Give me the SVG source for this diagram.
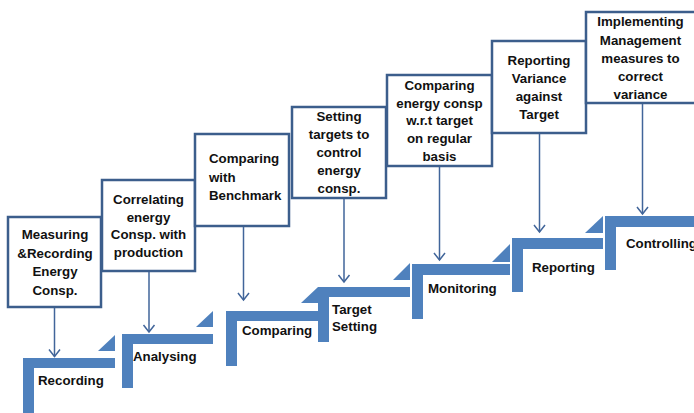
<svg xmlns="http://www.w3.org/2000/svg" width="694" height="413" viewBox="0 0 694 413">
<defs>
<style>
.box{fill:#ffffff;stroke:#3C5E8C;stroke-width:2.5}
.step{fill:#4F81BD}
.lbl{font-family:"Liberation Sans",Arial,sans-serif;font-weight:bold;font-size:13.3px;fill:#111111}
.c{text-anchor:middle}
.conn{stroke:#41659A;stroke-width:1.5;fill:none}
</style>
<marker id="ah" viewBox="-9 -8 11 16" markerWidth="11" markerHeight="16" refX="0" refY="0" orient="auto" markerUnits="userSpaceOnUse">
<path d="M-7,-5.5 L0,0 L-7,5.5" fill="none" stroke="#41659A" stroke-width="1.5"/>
</marker>
</defs>
<rect width="694" height="413" fill="#ffffff"/>

<g id="steps">
<g id="step-recording">
<path class="step" d="M23,358 H115 V368 H34 V420 H23 Z"/>
<path class="step" d="M98,351 H115 V335 Z"/>
<text class="lbl" x="38" y="385">Recording</text>
</g>
<g id="step-analysing">
<path class="step" d="M122,334 H213 V344 H133 V388 H122 Z"/>
<path class="step" d="M196,327 H213 V311 Z"/>
<text class="lbl" x="133" y="361">Analysing</text>
</g>
<g id="step-comparing">
<path class="step" d="M226,311 H318 V321 H237 V366 H226 Z"/>
<path class="step" d="M301,303 H318 V287 Z"/>
<text class="lbl" x="242" y="335">Comparing</text>
</g>
<g id="step-target">
<path class="step" d="M318,287 H410 V297 H329 V342 H318 Z"/>
<path class="step" d="M393,280 H410 V263 Z"/>
<text class="lbl" x="332" y="314">Target</text>
<text class="lbl" x="332" y="331">Setting</text>
</g>
<g id="step-monitoring">
<path class="step" d="M412,264 H510 V275 H423 V319 H412 Z"/>
<path class="step" d="M492,262 H510 V244 Z"/>
<text class="lbl" x="428" y="292.5">Monitoring</text>
</g>
<g id="step-reporting">
<path class="step" d="M512,238 H603 V249 H523 V292 H512 Z"/>
<path class="step" d="M585,233 H603 V216 Z"/>
<text class="lbl" x="532" y="272">Reporting</text>
</g>
<g id="step-controlling">
<path class="step" d="M605,216 H700 V227 H616 V270 H605 Z"/>
<text class="lbl" x="626" y="247.5">Controlling</text>
</g>
</g>

<g id="boxes">
<g id="box-measuring">
<rect class="box" x="8" y="217" width="93" height="90"/>
<text class="lbl c" x="55" y="239">Measuring</text>
<text class="lbl c" x="55" y="257.6">&amp;Recording</text>
<text class="lbl c" x="55" y="276.2">Energy</text>
<text class="lbl c" x="55" y="294.8">Consp.</text>
</g>
<g id="box-correlating">
<rect class="box" x="102" y="180" width="93" height="91"/>
<text class="lbl c" x="148.5" y="204">Correlating</text>
<text class="lbl c" x="148.5" y="221.7">energy</text>
<text class="lbl c" x="148.5" y="239.3">Consp. with</text>
<text class="lbl c" x="148.5" y="257">production</text>
</g>
<g id="box-benchmark">
<rect class="box" x="195" y="134" width="94" height="92"/>
<text class="lbl" x="209" y="163">Comparing</text>
<text class="lbl" x="209" y="181.5">with</text>
<text class="lbl" x="209" y="200">Benchmark</text>
</g>
<g id="box-setting">
<rect class="box" x="292" y="107" width="94" height="91"/>
<text class="lbl c" x="339" y="121">Setting</text>
<text class="lbl c" x="339" y="139">targets to</text>
<text class="lbl c" x="339" y="157">control</text>
<text class="lbl c" x="339" y="175">energy</text>
<text class="lbl c" x="339" y="193">consp.</text>
</g>
<g id="box-monitoring">
<rect class="box" x="387" y="75" width="105" height="91"/>
<text class="lbl c" x="439.5" y="89.5">Comparing</text>
<text class="lbl c" x="439.5" y="107.5">energy consp</text>
<text class="lbl c" x="439.5" y="125.3">w.r.t target</text>
<text class="lbl c" x="439.5" y="143.2">on regular</text>
<text class="lbl c" x="439.5" y="161">basis</text>
</g>
<g id="box-reporting">
<rect class="box" x="492" y="41" width="94" height="92"/>
<text class="lbl c" x="539" y="64.5">Reporting</text>
<text class="lbl c" x="539" y="82.5">Variance</text>
<text class="lbl c" x="539" y="100.5">against</text>
<text class="lbl c" x="539" y="118.5">Target</text>
</g>
<g id="box-implementing">
<rect class="box" x="586" y="12" width="114" height="91"/>
<text class="lbl c" x="640.5" y="26">Implementing</text>
<text class="lbl c" x="640.5" y="44.5">Management</text>
<text class="lbl c" x="640.5" y="62.5">measures to</text>
<text class="lbl c" x="640.5" y="80.7">correct</text>
<text class="lbl c" x="640.5" y="99">variance</text>
</g>
</g>

<g id="connectors">
<line class="conn" x1="54.5" y1="308" x2="54.5" y2="356.5" marker-end="url(#ah)"/>
<line class="conn" x1="149" y1="272" x2="149" y2="332" marker-end="url(#ah)"/>
<line class="conn" x1="243.5" y1="227" x2="243.5" y2="300" marker-end="url(#ah)"/>
<line class="conn" x1="344" y1="199" x2="344" y2="282" marker-end="url(#ah)"/>
<line class="conn" x1="439.5" y1="167" x2="439.5" y2="260" marker-end="url(#ah)"/>
<line class="conn" x1="539.5" y1="134" x2="539.5" y2="232" marker-end="url(#ah)"/>
<line class="conn" x1="642.5" y1="104" x2="642.5" y2="214" marker-end="url(#ah)"/>
</g>
</svg>
